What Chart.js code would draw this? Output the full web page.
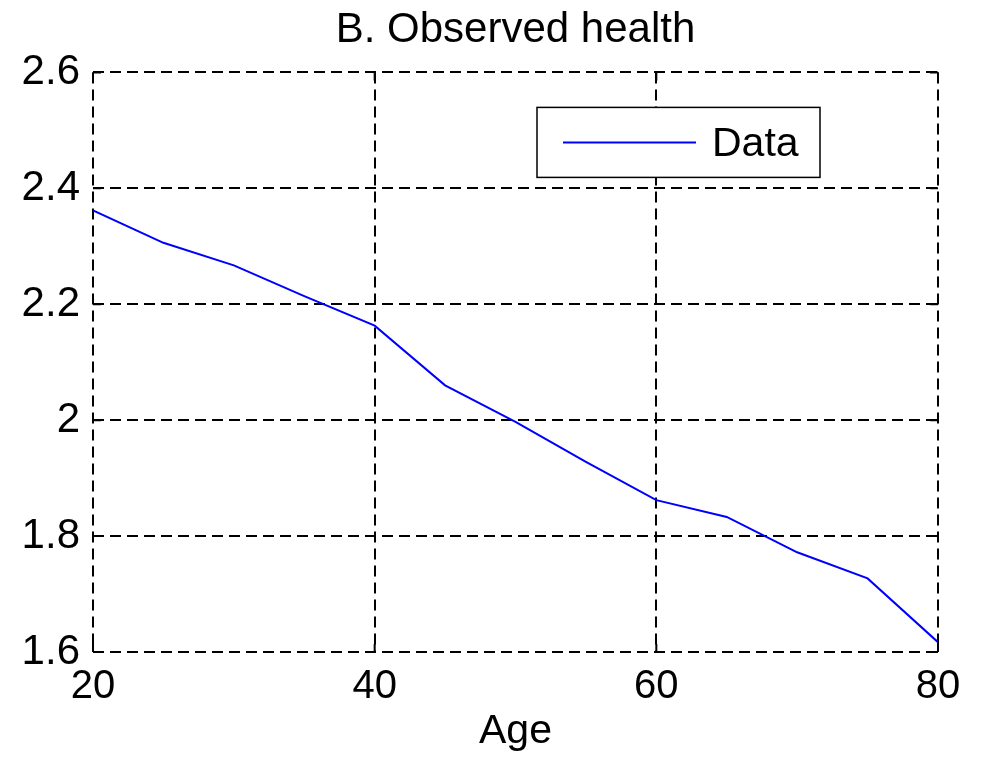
<!DOCTYPE html>
<html>
<head>
<meta charset="utf-8">
<script src="https://cdn.jsdelivr.net/npm/chart.js@4.4.1/dist/chart.umd.min.js"></script>
<style>
  html, body { margin: 0; padding: 0; background: #fff; }
  #wrap { width: 992px; height: 761px; }
</style>
</head>
<body>
<div id="wrap"><canvas id="chartHealth" width="992" height="761"></canvas></div>
<script>
// dados
var idades = [20, 25, 30, 35, 40, 45, 50, 55, 60, 65, 70, 75, 80];
var saude = [2.362, 2.306, 2.267, 2.214, 2.163, 2.060, 1.997, 1.928, 1.862, 1.833, 1.772, 1.727, 1.617];
var ticksX = [20, 40, 60, 80];
var ticksY = [1.6, 1.8, 2, 2.2, 2.4, 2.6];

var fonte = 'Liberation Sans, Arial, sans-serif';

// legenda desenhada dentro da area do grafico (estilo matlab)
var legendaBox = {
    id: 'legendaBox',
    afterDatasetsDraw: function (chart) {
        var ctx = chart.ctx;
        var area = chart.chartArea;
        var ds = chart.data.datasets[0];
        var x0 = area.left + 444, y0 = area.top + 35, w = 283, h = 70;
        ctx.save();
        ctx.fillStyle = '#fff';
        ctx.fillRect(x0, y0, w, h);
        ctx.strokeStyle = '#000';
        ctx.lineWidth = 1.5;
        ctx.strokeRect(x0, y0, w, h);
        ctx.strokeStyle = ds.borderColor;
        ctx.lineWidth = 2;
        ctx.beginPath();
        ctx.moveTo(x0 + 26, y0 + h / 2);
        ctx.lineTo(x0 + 159, y0 + h / 2);
        ctx.stroke();
        ctx.fillStyle = '#000';
        ctx.font = '41px ' + fonte;
        ctx.textBaseline = 'middle';
        ctx.fillText(ds.label, x0 + 175, y0 + h / 2 + 2);
        ctx.restore();
    }
};

// pequenos ticks solidos nas bordas
var ticksBorda = {
    id: 'ticksBorda',
    afterDraw: function (chart) {
        var ctx = chart.ctx;
        var a = chart.chartArea;
        var sx = chart.scales.x, sy = chart.scales.y;
        var len = 8;
        ctx.save();
        ctx.strokeStyle = '#000';
        ctx.lineWidth = 2;
        ctx.beginPath();
        ticksX.forEach(function (v) {
            var px = sx.getPixelForValue(v);
            ctx.moveTo(px, a.bottom); ctx.lineTo(px, a.bottom - len);
            ctx.moveTo(px, a.top); ctx.lineTo(px, a.top + len);
        });
        ticksY.forEach(function (v) {
            var py = sy.getPixelForValue(v);
            ctx.moveTo(a.left, py); ctx.lineTo(a.left + len, py);
            ctx.moveTo(a.right, py); ctx.lineTo(a.right - len, py);
        });
        ctx.stroke();
        ctx.restore();
    }
};

new Chart(document.getElementById('chartHealth'), {
    type: 'line',
    data: {
        datasets: [{
            label: 'Data',
            data: idades.map(function (x, i) { return { x: x, y: saude[i] }; }),
            borderColor: '#0000ff',
            borderWidth: 2,
            pointRadius: 0,
            tension: 0,
            fill: false
        }]
    },
    options: {
        responsive: false,
        animation: false,
        layout: {
            padding: { left: 0, right: 54, top: 0, bottom: 0 }
        },
        plugins: {
            legend: { display: false },
            tooltip: { enabled: false },
            title: {
                display: true,
                fullSize: false, // centraliza sobre a area do grafico
                text: 'B. Observed health',
                color: '#000',
                font: { family: fonte, size: 42, weight: 'normal' },
                padding: { top: 5, bottom: 17 }
            }
        },
        scales: {
            x: {
                type: 'linear',
                min: 20,
                max: 80,
                afterBuildTicks: function (s) { s.ticks = ticksX.map(function (v) { return { value: v }; }); },
                afterFit: function (s) { s.height = 109; },
                ticks: {
                    color: '#000',
                    font: { family: fonte, size: 40 },
                    padding: 11,
                    maxRotation: 0
                },
                grid: {
                    color: '#000',
                    lineWidth: 2,
                    drawTicks: false
                },
                border: { display: false, dash: [11, 6] },
                title: {
                    display: true,
                    text: 'Age',
                    color: '#000',
                    font: { family: fonte, size: 41 },
                    padding: { top: 0, bottom: 5 }
                }
            },
            y: {
                min: 1.6,
                max: 2.6,
                afterBuildTicks: function (s) { s.ticks = ticksY.map(function (v) { return { value: v }; }); },
                afterFit: function (s) { s.width = 93; },
                ticks: {
                    color: '#000',
                    font: { family: fonte, size: 42 },
                    padding: 13,
                    callback: function (v) { return String(+v.toFixed(1)); }
                },
                grid: {
                    color: '#000',
                    lineWidth: 2,
                    drawTicks: false
                },
                border: { display: false, dash: [11, 6] }
            }
        }
    },
    plugins: [legendaBox, ticksBorda]
});
</script>
</body>
</html>
